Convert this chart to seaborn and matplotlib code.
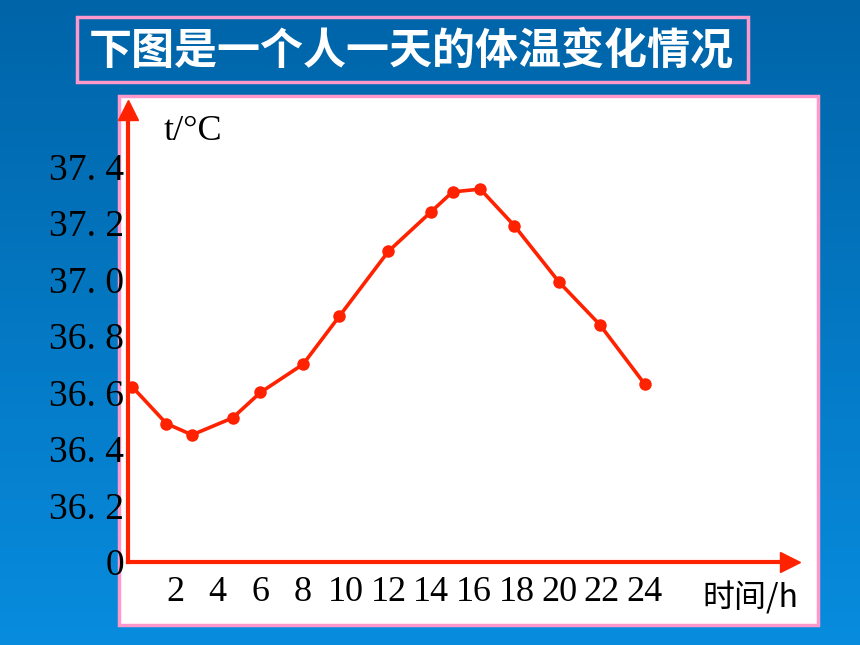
import numpy as np
import matplotlib
matplotlib.use("Agg")
import matplotlib.pyplot as plt
from matplotlib.patches import Rectangle
import seaborn as sns

# data
hours = [0, 1.6, 2.8, 4.7, 6, 8, 9.7, 12, 14, 15, 16.3, 17.9, 20, 21.9, 24]
temps = [36.62, 36.49, 36.45, 36.51, 36.60, 36.70, 36.87, 37.10, 37.24,
         37.31, 37.32, 37.19, 36.99, 36.84, 36.63]

x_ticks = [2, 4, 6, 8, 10, 12, 14, 16, 18, 20, 22, 24]
y_ticks = [36.0, 36.2, 36.4, 36.6, 36.8, 37.0, 37.2, 37.4]
y_tick_labels = ["0", "36. 2", "36. 4", "36. 6", "36. 8", "37. 0", "37. 2", "37. 4"]
y_minor = [36.1, 36.3, 36.5, 36.7, 36.9, 37.1, 37.3]

title = "下图是一个人一天的体温变化情况"
y_label = "t/°C"
x_label = "时间/h"

sns.set_style("white")
plt.rcParams["font.family"] = ["Liberation Serif", "DejaVu Serif"]
plt.rcParams["text.color"] = "black"
plt.rcParams["xtick.labelcolor"] = "black"
plt.rcParams["ytick.labelcolor"] = "black"

W, H = 860, 645
fig = plt.figure(figsize=(W / 100, H / 100), dpi=100)

# blue gradient background
bg = fig.add_axes([0, 0, 1, 1])
grad = np.linspace(0, 1, 256).reshape(-1, 1)
top = np.array([0, 100, 168]) / 255
bot = np.array([8, 140, 222]) / 255
img = top + (bot - top) * grad[..., None]
bg.imshow(img, aspect="auto", extent=[0, 1, 0, 1])
bg.set_xlim(0, 1)
bg.set_ylim(0, 1)
bg.axis("off")

def px_rect(x0, y0, x1, y1, **kw):
    return Rectangle((x0 / W, 1 - y1 / H), (x1 - x0) / W, (y1 - y0) / H,
                     transform=fig.transFigure, **kw)

pink = "#ff99cc"
# title box
bg.add_patch(px_rect(77, 17, 748, 82, facecolor="none", edgecolor=pink, lw=2.5))
fig.text(411 / W, 1 - 50 / H, title, color="white", fontsize=31, fontweight="bold",
         ha="center", va="center", family=["Noto Sans CJK SC", "DejaVu Sans"])

# white panel
bg.add_patch(px_rect(119, 96, 818, 625, facecolor="white", edgecolor=pink, lw=2.5))

red = "#ff2200"
ax = fig.add_axes([128 / W, 1 - 562 / H, 661.85 / W, 452 / H])
ax.patch.set_alpha(0)
sns.lineplot(x=hours, y=temps, ax=ax, color=red, lw=2.6, marker="o",
             markersize=9, markeredgecolor=red, markeredgewidth=0)

ax.set_xlim(-0.2, 30.8)
ax.set_ylim(36.0, 37.6)

for s in ["top", "right"]:
    ax.spines[s].set_visible(False)
for s in ["left", "bottom"]:
    ax.spines[s].set_color(red)
    ax.spines[s].set_linewidth(3)

# arrow heads
ax.plot(1, 0, ">", color=red, markersize=14, transform=ax.transAxes, clip_on=False)
ax.plot(0, 1, "^", color=red, markersize=14, transform=ax.transAxes, clip_on=False)

ax.set_xticks(x_ticks)
ax.set_xticklabels([str(v) for v in x_ticks], fontsize=26)
ax.set_yticks(y_ticks)
ax.set_yticklabels(y_tick_labels, fontsize=27)
ax.set_yticks(y_minor, minor=True)
ax.tick_params(axis="x", direction="in", length=8, width=2.2, color=red, pad=10)
ax.tick_params(axis="y", which="both", direction="in", length=6, width=2.5,
               color=red, pad=3)

fig.text(193 / W, 1 - 132 / H, y_label, fontsize=26, ha="center", va="center")
fig.text(750 / W, 1 - 598 / H, x_label, fontsize=23, ha="center", va="center",
         family=["Noto Sans CJK SC", "DejaVu Sans"])

fig.savefig("out.png", dpi=100)
